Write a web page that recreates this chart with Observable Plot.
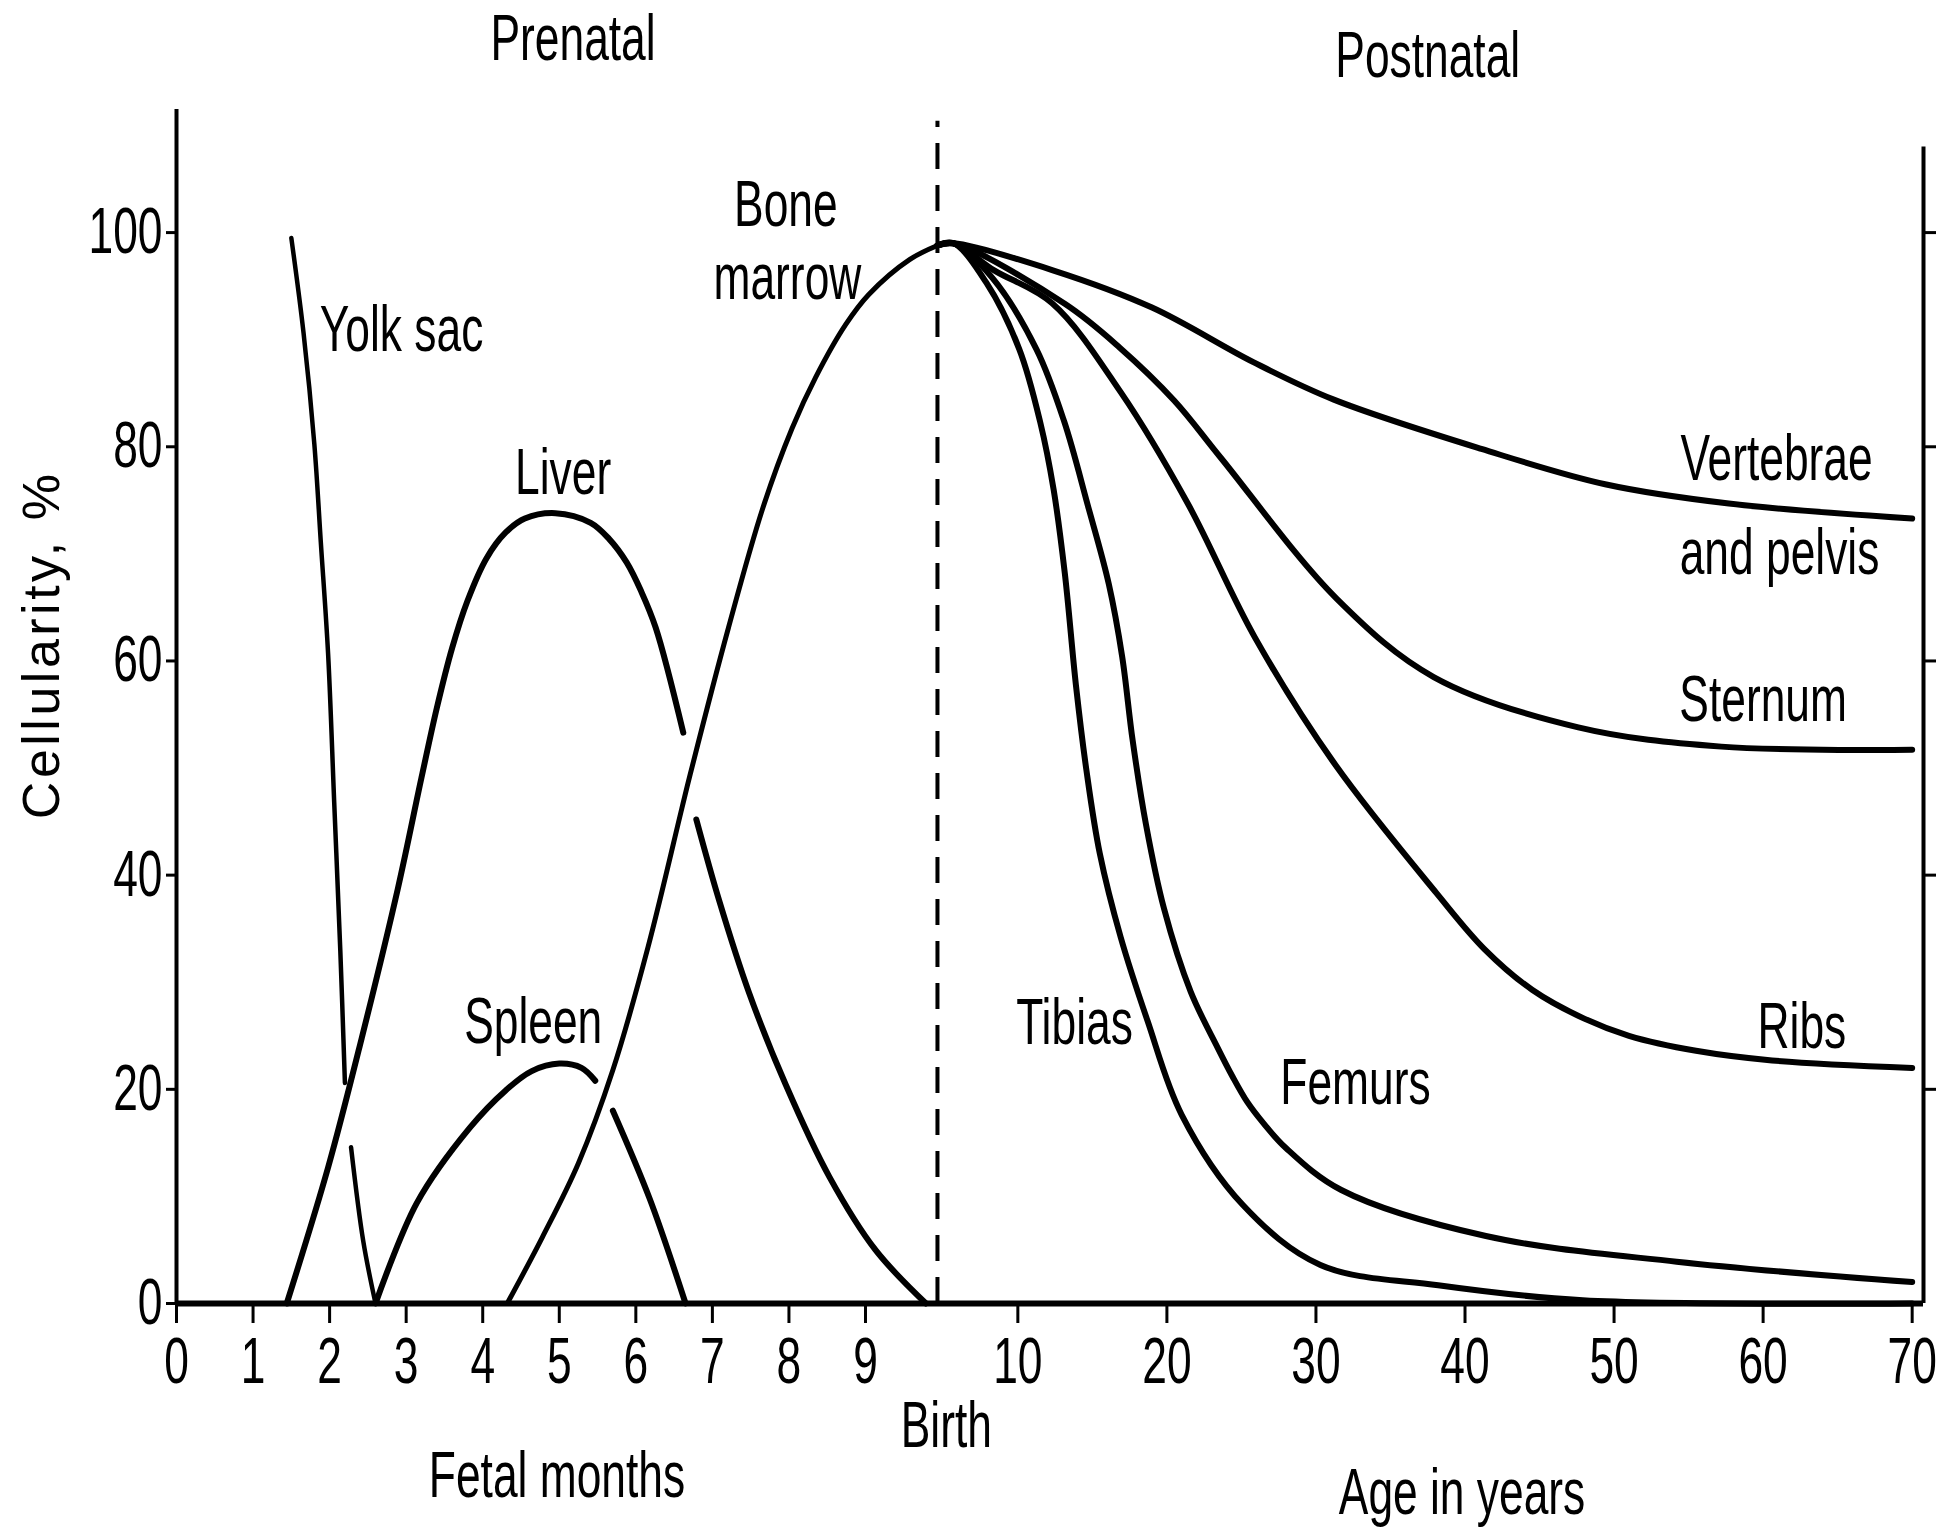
<!DOCTYPE html>
<html>
<head>
<meta charset="utf-8">
<script src="https://cdn.jsdelivr.net/npm/d3@7"></script>
<script src="https://cdn.jsdelivr.net/npm/@observablehq/plot@0.6"></script>
<style>
  html, body { margin: 0; padding: 0; background: #fff; }
  #chart svg { display: block; }
</style>
</head>
<body>
<div id="chart"></div>
<script>
// ---------------- axis layout ----------------
const monthTicks = [0, 1, 2, 3, 4, 5, 6, 7, 8, 9];
const yearTicks = [10, 20, 30, 40, 50, 60, 70];
const yTicks = [0, 20, 40, 60, 80, 100];
const birthMonth = 9.94;          // dashed "Birth" line, in fetal-month units
const firstDecadeWidth = 1.05;    // 0–10 years occupy this many month-units
const laterDecadeWidth = 1.947;   // every later decade
const xMax = 22.82;               // right-hand axis
const yMax = 110;
const leftAxisTop = 111.5, rightAxisTop = 108, birthLineTop = 110.4;

// ---------------- prenatal series: [fetal month, cellularity %] (null = break where another curve crosses) ----------------
const yolkSac = [[1.50, 99.5], [1.66, 90.6], [1.80, 80.3], [1.885, 71.1], [1.98, 60.7], [2.06, 46.8],
  [2.14, 32.9], [2.20, 20.6], [2.24, null], [2.28, 14.6], [2.44, 5.8], [2.60, 0]];
const liver = [[1.44, 0], [1.98, 12.7], [2.42, 24.8], [2.89, 38.7], [3.20, 49.1], [3.40, 55.6],
  [3.60, 61.2], [3.80, 65.6], [4.05, 69.6], [4.30, 72.0], [4.55, 73.3], [4.95, 73.8], [5.41, 72.9],
  [5.65, 71.4], [5.88, 69.2], [6.07, 66.5], [6.26, 63.1], [6.62, 53.3], [6.70, null], [6.79, 45.2],
  [7.09, 37.6], [7.48, 29.0], [7.96, 20.4], [8.53, 11.8], [9.13, 5.0], [9.79, 0]];
const spleen = [[2.60, 0], [3.14, 9.4], [3.83, 16.4], [4.30, 19.9], [4.64, 21.7], [5.00, 22.4],
  [5.29, 22.0], [5.47, 20.8], [5.58, null], [5.70, 18.0], [6.18, 9.8], [6.65, 0]];
const boneMarrow = [[4.32, 0], [4.78, 6.2], [5.25, 13.1], [5.70, 21.8], [6.16, 33.3], [6.60, 46.2],
  [6.71, 49.4], [7.21, 63.1], [7.66, 74.3], [8.04, 81.7], [8.35, 86.5], [8.74, 91.4], [9.04, 94.2],
  [9.58, 97.5], [9.94, 98.8]];

// ---------------- postnatal series: [age in years, cellularity %] ----------------
const tibias = [[0, 98.8], [2, 99], [6.1, 95.3], [10.1, 89.1], [11.5, 82.3], [12.4, 76.0], [13.15, 68.2],
  [13.9, 57.7], [14.6, 49.8], [15.5, 42.0], [16.9, 34.2], [18.7, 26.4], [21.0, 17.6], [25.1, 9.2],
  [30.3, 3.6], [38.2, 1.7], [47.9, 0.3], [70, 0]];
const femurs = [[0, 98.8], [2, 99], [6.8, 95.8], [11.25, 89.1], [13.1, 82.4], [14.7, 74.5], [16.1, 67.2],
  [17.0, 60.4], [17.7, 52.6], [18.6, 44.7], [19.8, 36.9], [21.6, 29.1], [23.4, 23.9], [24.4, 21.2],
  [25.4, 18.8], [26.5, 16.8], [28.0, 14.5], [31.7, 10.6], [41.4, 6.3], [54.2, 3.9], [70, 2.0]];
const ribs = [[0, 98.8], [2, 99], [7, 96.5], [12.3, 93.4], [16.9, 85.1], [21.4, 74.7], [25.9, 62.2],
  [31.3, 50.3], [38.1, 38.3], [41.3, 33.1], [44.5, 29.3], [48.0, 26.6], [51.0, 25.0], [55.5, 23.6],
  [60.6, 22.7], [70, 22.0]];
const sternum = [[0, 98.8], [2, 99], [13.2, 93.3], [16.8, 89.3], [20.5, 84.3], [23.6, 79.0], [31.4, 65.8],
  [37.9, 58.5], [47.6, 53.8], [57.2, 52.0], [70, 51.7]];
const vertebraePelvis = [[0, 98.8], [2, 99], [12.3, 96.5], [19.0, 93.0], [25.8, 87.9], [31.2, 84.4],
  [41.1, 79.8], [49.4, 76.5], [57.7, 74.7], [70, 73.3]];

// ---------------- text labels ----------------
const prenatalLabels = [
  {text: "Prenatal", month: 5.18, v: 118},
  {text: "Yolk sac", month: 2.94, v: 90.9},
  {text: "Liver", month: 5.05, v: 77.5},
  {text: "Bone", month: 7.96, v: 102.5},
  {text: "marrow", month: 7.98, v: 95.7},
  {text: "Spleen", month: 4.66, v: 26.2},
  {text: "Fetal months", month: 4.97, v: -16.2}
];
const postnatalLabels = [
  {text: "Postnatal", year: 37.5, v: 116.4},
  {text: "Birth", year: 1.1, v: -11.5},
  {text: "Tibias", year: 13.8, v: 26.1},
  {text: "Femurs", year: 32.65, v: 20.5},
  {text: "Vertebrae", year: 60.9, v: 78.8},
  {text: "and pelvis", year: 61.1, v: 70.0},
  {text: "Sternum", year: 60.0, v: 56.3},
  {text: "Ribs", year: 62.6, v: 25.8},
  {text: "Age in years", year: 39.8, v: -17.7}
];
const yLabel = {text: "Cellularity, %", v: 61.5};

// ---------------- build tables ----------------
function yearsToAxis(y) {
  return y <= 10 ? birthMonth + y / 10 * firstDecadeWidth
                 : birthMonth + firstDecadeWidth + (y - 10) / 10 * laterDecadeWidth;
}
const prenatal = {"Yolk sac": yolkSac, "Liver": liver, "Spleen": spleen, "Bone marrow": boneMarrow};
const postnatal = {"Tibias": tibias, "Femurs": femurs, "Ribs": ribs, "Sternum": sternum, "Vertebrae and pelvis": vertebraePelvis};
const widths = {"Yolk sac": 4.5, "Liver": 6, "Spleen": 6, "Bone marrow": 5};

const rows = [];
for (const [name, pts] of Object.entries(prenatal))
  for (const [m, v] of pts) rows.push({series: name, t: m, v});
for (const [name, pts] of Object.entries(postnatal))
  for (const [y, v] of pts) rows.push({series: name, t: yearsToAxis(y), v});

const labelRows = [
  ...prenatalLabels.map(d => ({text: d.text, t: d.month, v: d.v})),
  ...postnatalLabels.map(d => ({text: d.text, t: yearsToAxis(d.year), v: d.v}))
];

const tickLabel = new Map();
monthTicks.forEach(m => tickLabel.set(m, String(m)));
yearTicks.forEach(y => tickLabel.set(yearsToAxis(y), String(y)));
const xTickPositions = [...tickLabel.keys()];

const FONT = "'Liberation Sans', Arial, Helvetica, sans-serif";
const FONT_SIZE = 64;
// the original lettering is a tall condensed grotesque: squeeze the regular face horizontally
const ctx = document.createElement("canvas").getContext("2d");
ctx.font = `${FONT_SIZE}px ${FONT}`;
const condense = (2.58 * FONT_SIZE) / ctx.measureText("Prenatal").width; // "Prenatal" ≈ 2.58 em wide

const lineMarks = Object.keys(prenatal).map(name =>
  Plot.line(rows.filter(d => d.series === name), {x: "t", y: "v", stroke: "black",
    strokeWidth: widths[name], curve: "catmull-rom", strokeLinecap: "round"}));

const svg = Plot.plot({
  width: 1943,
  height: 1527,
  marginLeft: 176,
  marginRight: 20,
  marginTop: 125,
  marginBottom: 224,
  x: {domain: [0, xMax]},
  y: {domain: [0, yMax]},
  marks: [
    // axis lines
    Plot.ruleX([0], {y1: 0, y2: leftAxisTop, stroke: "black", strokeWidth: 4}),
    Plot.ruleX([xMax], {y1: 0, y2: rightAxisTop, stroke: "black", strokeWidth: 4}),
    Plot.ruleY([0], {x1: 0, x2: xMax, stroke: "black", strokeWidth: 6}),
    Plot.ruleX([birthMonth], {y1: 0, y2: birthLineTop, stroke: "black", strokeWidth: 4, strokeDasharray: "26,16"}),
    Plot.axisY({anchor: "left", ticks: yTicks, tickSize: 10, tickPadding: 4, fontSize: FONT_SIZE,
      fontFamily: FONT, strokeWidth: 3, label: null}),
    Plot.axisY({anchor: "right", ticks: yTicks.slice(1), tickSize: 12, tickFormat: () => "",
      strokeWidth: 3, label: null}),
    Plot.axisX({ticks: xTickPositions, tickFormat: d => tickLabel.get(d), tickSize: 20, tickPadding: 14,
      fontSize: FONT_SIZE, fontFamily: FONT, strokeWidth: 3, label: null}),
    // curves
    ...lineMarks,
    Plot.line(rows.filter(d => d.series in postnatal), {x: "t", y: "v", z: "series", stroke: "black",
      strokeWidth: 6, curve: "catmull-rom", strokeLinecap: "round"}),
    // labels
    Plot.text(labelRows, {x: "t", y: "v", text: "text", fontSize: FONT_SIZE, fontFamily: FONT, fill: "black"}),
    Plot.text([yLabel], {y: "v", text: "text", frameAnchor: "left", textAnchor: "middle", dx: -134, rotate: -90,
      fontSize: 52, fontFamily: FONT, fill: "black"})
  ]
});

svg.querySelectorAll("text").forEach(el => {
  if (el.textContent === yLabel.text) { el.setAttribute("letter-spacing", "3.5"); return; }
  const tr = el.getAttribute("transform");
  if (tr) el.setAttribute("transform", `${tr} scale(${condense},1)`);
  else {
    const x = +(el.getAttribute("x") || 0), y = +(el.getAttribute("y") || 0);
    el.removeAttribute("x"); el.removeAttribute("y");
    el.setAttribute("transform", `translate(${x},${y}) scale(${condense},1)`);
  }
});
document.getElementById("chart").appendChild(svg);
</script>
</body>
</html>
